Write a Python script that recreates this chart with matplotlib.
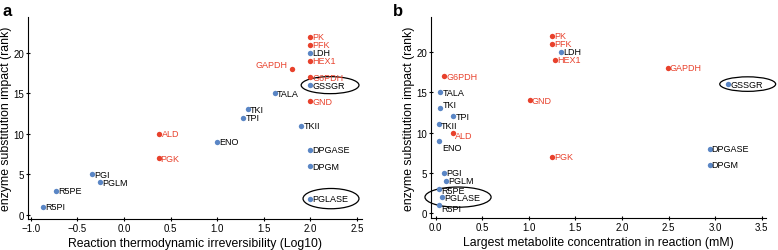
import matplotlib
matplotlib.use("Agg")
import matplotlib.pyplot as plt
from matplotlib.patches import Ellipse

plt.rcParams['font.family'] = ['Liberation Sans', 'DejaVu Sans']

RED = '#e8412c'
BLUE = '#5a86c5'

# enzyme, rank, thermodynamic irreversibility, max metabolite conc (mM)
enzymes = ['PK', 'PFK', 'LDH', 'HEX1', 'GAPDH', 'G6PDH', 'GSSGR', 'TALA', 'GND',
           'TKI', 'TPI', 'TKII', 'ALD', 'ENO', 'DPGASE', 'PGK', 'DPGM', 'PGI',
           'PGLM', 'R5PE', 'PGLASE', 'R5PI']
rank = [22, 21, 20, 19, 18, 17, 16, 15, 14, 13, 12, 11, 10, 9, 8, 7, 6, 5, 4, 3, 2, 1]
irrev = [2.0, 2.0, 2.0, 2.0, 1.8, 2.0, 2.0, 1.62, 2.0, 1.33, 1.28, 1.9, 0.38, 1.0,
         2.0, 0.37, 2.0, -0.34, -0.26, -0.73, 2.0, -0.87]
conc = [1.25, 1.25, 1.35, 1.28, 2.49, 0.09, 3.14, 0.05, 1.01, 0.05, 0.19, 0.04, 0.19,
        0.04, 2.94, 1.25, 2.94, 0.09, 0.11, 0.04, 0.07, 0.04]
red = ['PK', 'PFK', 'HEX1', 'GAPDH', 'G6PDH', 'GND', 'ALD', 'PGK']

fig = plt.figure(figsize=(7.78, 2.51), dpi=100)
ax1 = fig.add_axes([0.036, 0.124, 0.429, 0.804])
ax2 = fig.add_axes([0.554, 0.127, 0.431, 0.801])


def panel(ax, xs, offsets):
    for name, x, y in zip(enzymes, xs, rank):
        c = RED if name in red else BLUE
        ax.scatter(x, y, s=15, color=c, zorder=3, linewidths=0)
        tc = RED if name in red else 'black'
        dx, dy, ha = offsets.get(name, (1.5, 0, 'left'))
        ax.annotate(name, (x, y), xytext=(dx, dy), textcoords='offset points',
                    fontsize=6.5, color=tc, va='center', ha=ha)
    for s in ['top', 'right']:
        ax.spines[s].set_visible(False)
    ax.tick_params(labelsize=7, length=3, width=0.8, direction='inout', pad=1.5)
    ax.set_ylabel('enzyme substitution impact (rank)', fontsize=8.8, labelpad=1)
    ax.set_yticks([0, 5, 10, 15, 20])


off_a = {'GAPDH': (-3, 3.5, 'right')}
panel(ax1, irrev, off_a)
ax1.set_xlim(-1.03, 2.55)
ax1.set_ylim(-0.5, 24.4)
ax1.set_xticks([-1.0, -0.5, 0.0, 0.5, 1.0, 1.5, 2.0, 2.5])
ax1.set_xlabel('Reaction thermodynamic irreversibility (Log10)', fontsize=8.8, labelpad=3)
ax1.add_patch(Ellipse((2.21, 16), 0.62, 2.1, fill=False, lw=0.9, ec='black', clip_on=False))
ax1.add_patch(Ellipse((2.22, 2), 0.6, 2.5, fill=False, lw=0.9, ec='black', clip_on=False))

# label offsets (points) for panel b where labels are shifted
off_b = {'TKI': (1.5, 2.5, 'left'), 'TKII': (1, -1, 'left'), 'ENO': (2, -5, 'left'),
         'R5PE': (1, -1, 'left'), 'R5PI': (1, -2.5, 'left'), 'ALD': (1.5, -2, 'left')}
panel(ax2, conc, off_b)
ax2.set_xlim(-0.05, 3.55)
ax2.set_ylim(-0.6, 24.3)
ax2.set_xticks([0.0, 0.5, 1.0, 1.5, 2.0, 2.5, 3.0, 3.5])
ax2.set_xlabel('Largest metabolite concentration in reaction (mM)', fontsize=8.8, labelpad=3)
ax2.add_patch(Ellipse((3.35, 16), 0.6, 1.8, fill=False, lw=0.9, ec='black', clip_on=False))
ax2.add_patch(Ellipse((0.24, 2), 0.71, 2.5, fill=False, lw=0.9, ec='black', clip_on=False))

fig.text(0.003, 0.985, 'a', fontsize=12, fontweight='bold', va='top')
fig.text(0.505, 0.985, 'b', fontsize=12, fontweight='bold', va='top')

fig.savefig('out.png', dpi=100)
